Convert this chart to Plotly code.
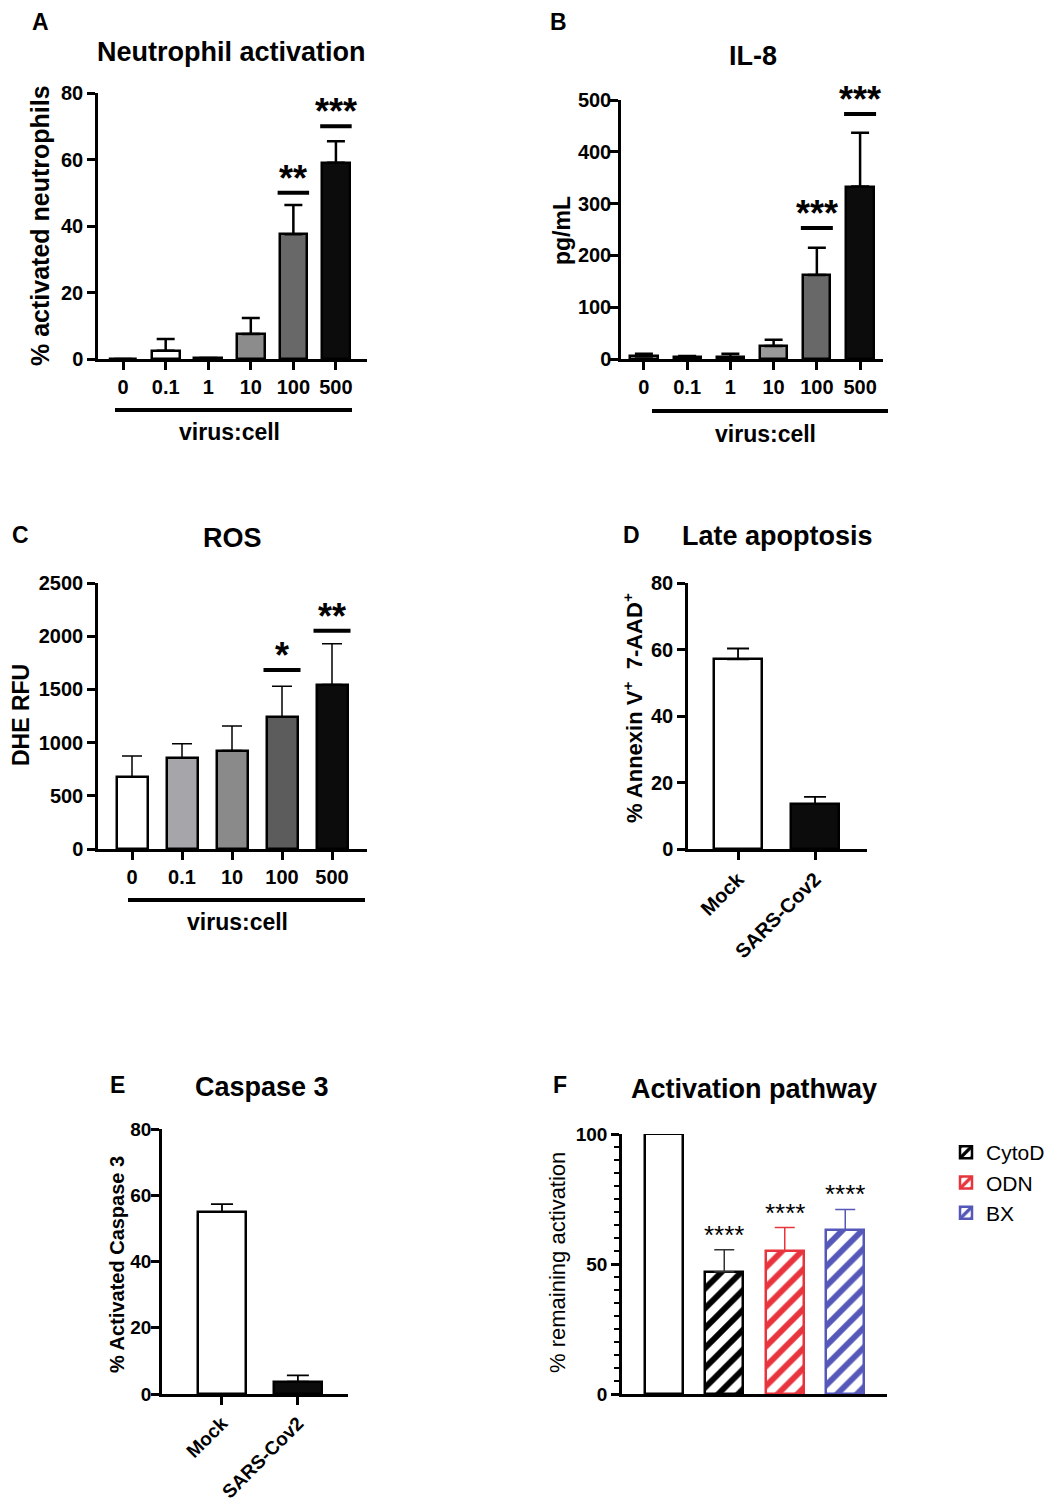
import plotly.graph_objects as go

W, H = 1055, 1502
OFF = 8  # the page body adds an 8px margin, so the figure is shifted by this much
FW, FH = W - OFF, H - OFF
FONT = "Liberation Sans, Arial, Helvetica, sans-serif"

# A - neutrophil activation
a_cats = ["0", "0.1", "1", "10", "100", "500"]
a_mean = [0, 2.5, 0.3, 7.5, 37.5, 59]
a_top = [0, 6, 0.3, 12.3, 46.3, 65.5]
a_fill = ["white", "white", "white", "#8c8c8c", "#686868", "#0c0c0c"]
a_sig_cats = ["100", "500"]
a_sig_y = [50, 70]
a_sig_txt = ["**", "***"]

# B - IL-8
b_cats = ["0", "0.1", "1", "10", "100", "500"]
b_mean = [5, 3, 4, 25, 162, 333]
b_top = [10, 6, 10, 37, 215, 437]
b_fill = ["white", "white", "white", "#999999", "#686868", "#0c0c0c"]
b_sig_cats = ["100", "500"]
b_sig_y = [253, 473]
b_sig_txt = ["***", "***"]

# C - ROS
c_cats = ["0", "0.1", "10", "100", "500"]
c_mean = [680, 855, 925, 1240, 1545]
c_top = [875, 990, 1155, 1530, 1930]
c_fill = ["white", "#a6a6aa", "#8a8a8a", "#5c5c5c", "#0c0c0c"]
c_sig_cats = ["100", "500"]
c_sig_y = [1682, 2051]
c_sig_txt = ["*", "**"]

# D - late apoptosis
d_cats = ["Mock", "SARS-Cov2"]
d_mean = [57, 13.5]
d_top = [60.3, 15.7]
d_fill = ["white", "#0c0c0c"]

# E - caspase 3
e_cats = ["Mock", "SARS-Cov2"]
e_mean = [55, 3.7]
e_top = [57.3, 5.6]
e_fill = ["white", "#0c0c0c"]

# F - activation pathway
f_cats = ["SARS-Cov2", "CytoD", "ODN", "BX"]
f_mean = [100, 47, 55, 63]
f_top = [100, 55.5, 64, 71]
f_colors = ["black", "black", "#e8343c", "#5558b8"]
f_sig_txt = ["", "****", "****", "****"]


def px(x):
    return (x - OFF) / FW


def py(y):
    return 1 - (y - OFF) / FH


fig = go.Figure()

panels = [
    # name, cats, mean, top, fill, xdom(px), ydom(px), xrange, yrange, dtick, errwidth, capw, barw, tickfont, ystandoff
    ("", a_cats, a_mean, a_top, a_fill, (98, 367), (359, 93), [-0.59, 5.73], [0, 80], 20, 2.5, 9, 0.65, 20, 0),
    ("2", b_cats, b_mean, b_top, b_fill, (621, 883), (359, 100), [-0.53, 5.53], [0, 500], 100, 2.5, 9, 0.63, 20, -5),
    ("3", c_cats, c_mean, c_top, c_fill, (98, 367), (849, 583), [-0.68, 4.7], [0, 2500], 500, 1.5, 10, 0.62, 20, 0),
    ("4", d_cats, d_mean, d_top, d_fill, (688, 867), (849, 583), [-0.65, 1.675], [0, 80], 20, 1.8, 11, 0.62, 20, 0),
    ("5", e_cats, e_mean, e_top, e_fill, (162, 348), (1394, 1129), [-0.79, 1.66], [0, 80], 20, 1.8, 11, 0.63, 19, -4),
]

axis_line = dict(showline=True, linecolor="black", linewidth=2.5, showgrid=False,
                 zeroline=False, ticks="outside", ticklen=8, tickwidth=2.5, automargin=False,
                 tickcolor="black")

for name, cats, mean, top, fill, xd, yd, xr, yr, dt, ew, cw, bw, fs, so in panels:
    fig.add_trace(go.Bar(
        x=cats, y=mean, width=bw, showlegend=False,
        marker=dict(color=fill, line=dict(color="black", width=2.5)),
        error_y=dict(type="data", symmetric=False,
                     array=[t - m for t, m in zip(top, mean)],
                     arrayminus=[0] * len(mean),
                     color="black", thickness=ew, width=cw),
        xaxis="x" + name, yaxis="y" + name,
    ))
    tf = dict(family=FONT, size=fs, color="black", weight="bold")
    xa = dict(axis_line, domain=[px(xd[0]), px(xd[1])], range=xr, type="category",
              tickfont=tf, anchor="y" + name)
    ya = dict(axis_line, domain=[py(yd[0]), py(yd[1])], range=yr, dtick=dt,
              tickfont=tf, ticklabelstandoff=so, anchor="x" + name)
    if name in ("4", "5"):
        xa["tickangle"] = -45
    fig.update_layout(**{"xaxis" + name: xa, "yaxis" + name: ya})

# F panel: one trace per treatment so the legend lists them
for i, (cat, m, t, col) in enumerate(zip(f_cats, f_mean, f_top, f_colors)):
    hatched = i > 0
    fig.add_trace(go.Bar(
        x=[cat], y=[m], width=0.63, name=cat, showlegend=hatched,
        marker=dict(color="white", line=dict(color=col, width=2.5),
                    pattern=dict(shape="/" if hatched else "", fgcolor=col,
                                 bgcolor="white", size=14, solidity=0.42)),
        error_y=dict(type="data", symmetric=False, array=[t - m], arrayminus=[0],
                     color="#333333" if col == "black" else col,
                     thickness=1.5, width=10, visible=hatched),
        xaxis="x6", yaxis="y6",
    ))
fig.update_layout(
    xaxis6=dict(showline=True, linecolor="black", linewidth=2.5, showgrid=False,
                zeroline=False, ticks="", showticklabels=False, type="category",
                automargin=False, domain=[px(622), px(887)], range=[-0.69, 3.69], anchor="y6"),
    yaxis6=dict(axis_line, domain=[py(1394), py(1134)], range=[0, 100],
                tickvals=[0, 50, 100], tickfont=dict(family=FONT, size=19, color="black", weight="bold"),
                minor=dict(dtick=5, ticks="outside", ticklen=5, tickwidth=1.5, tickcolor="black"),
                anchor="x6"),
)

shapes = []
annotations = []

# significance lines and stars
for name, cats, sig_cats, sig_y, sig_txt in [
    ("", a_cats, a_sig_cats, a_sig_y, a_sig_txt),
    ("2", b_cats, b_sig_cats, b_sig_y, b_sig_txt),
    ("3", c_cats, c_sig_cats, c_sig_y, c_sig_txt),
]:
    for c, v, s in zip(sig_cats, sig_y, sig_txt):
        i = cats.index(c)
        shapes.append(dict(type="line", xref="x" + name, yref="y" + name,
                           x0=i - 0.37, x1=i + 0.37, y0=v, y1=v,
                           line=dict(color="black", width=4)))
        annotations.append(dict(xref="x" + name, yref="y" + name, x=i, y=v,
                                text="<b>%s</b>" % s, showarrow=False, xanchor="center",
                                yanchor="bottom", yshift=-8,
                                font=dict(family=FONT, size=36, color="black")))

for i, (t, s) in enumerate(zip(f_top, f_sig_txt)):
    if s:
        annotations.append(dict(xref="x6", yref="y6", x=i, y=t, text=s, showarrow=False,
                                xanchor="center", yanchor="bottom", yshift=-2,
                                font=dict(family=FONT, size=26, color="black")))


def label(txt, x, y, size, angle=0):
    annotations.append(dict(xref="paper", yref="paper", x=px(x), y=py(y), text=txt,
                            showarrow=False, xanchor="center", yanchor="middle",
                            textangle=angle, font=dict(family=FONT, size=size, color="black")))


# virus:cell brackets
for x0, x1, yb, xt, yt in [(115, 352, 410, 229, 432), (652, 888, 411, 765, 434), (128, 365, 900, 237, 922)]:
    shapes.append(dict(type="line", xref="paper", yref="paper", x0=px(x0), x1=px(x1),
                       y0=py(yb), y1=py(yb), line=dict(color="black", width=4)))
    label("<b>virus:cell</b>", xt, yt, 23)

# titles
for txt, x, y in [("Neutrophil activation", 231, 52), ("IL-8", 753, 56), ("ROS", 232, 538),
                  ("Late apoptosis", 777, 536), ("Caspase 3", 262, 1087), ("Activation pathway", 754, 1089)]:
    label("<b>%s</b>" % txt, x, y, 27)

# panel letters
for txt, x, y in [("A", 40, 22), ("B", 558, 22), ("C", 20, 535), ("D", 631, 535), ("E", 117, 1085), ("F", 560, 1085)]:
    label("<b>%s</b>" % txt, x, y, 23)

# y-axis titles
for txt, x, y, size, bold in [
    ("% activated neutrophils", 40, 226, 25, True),
    ("pg/mL", 562, 231, 23, True),
    ("DHE RFU", 21, 715, 23, True),
    ("% Annexin V<sup>+</sup>  7-AAD<sup>+</sup>", 633, 708, 22, True),
    ("% Activated Caspase 3", 117, 1265, 20, True),
    ("% remaining activation", 557, 1263, 22, False),
]:
    label("<b>%s</b>" % txt if bold else txt, x, y, size, -90)

fig.update_layout(
    template="none",
    width=FW, height=FH, margin=dict(l=0, r=0, t=0, b=0, pad=0, autoexpand=False),
    paper_bgcolor="white", plot_bgcolor="white",
    barmode="overlay", bargap=0,
    shapes=shapes, annotations=annotations,
    legend=dict(x=px(946), y=py(1132), xanchor="left", yanchor="top",
                font=dict(family=FONT, size=21, color="black"),
                bgcolor="rgba(0,0,0,0)", itemwidth=30),
    font=dict(family=FONT, color="black"),
)

fig.write_html("out.html")
